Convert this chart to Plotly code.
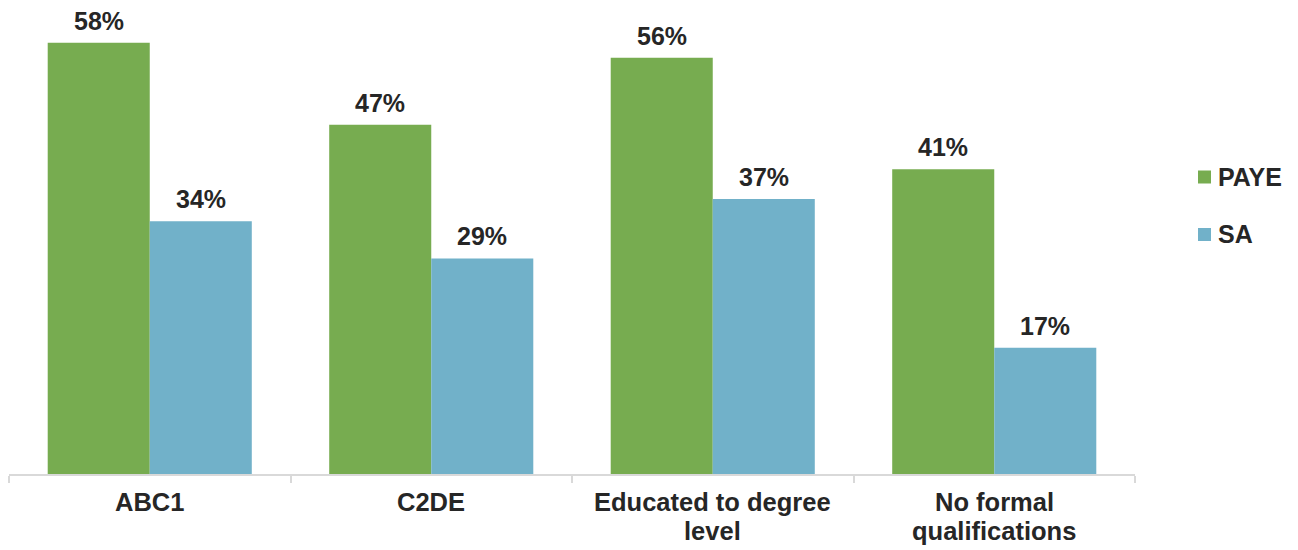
import plotly.graph_objects as go

categories = ["ABC1", "C2DE", "Educated to degree level", "No formal qualifications"]
category_lines = [["ABC1"], ["C2DE"], ["Educated to degree", "level"], ["No formal", "qualifications"]]
series_names = ["PAYE", "SA"]
paye = [58, 47, 56, 41]
sa = [34, 29, 37, 17]

GREEN = "#77AC50"
BLUE = "#71B1C9"
TEXT = "#262626"
AXIS = "#D9D9D9"
FONT = "Liberation Sans"

W, H = 1298, 550
L, R, T, B = 9, 163, 28, 76
BARGAP = 0.275
plot_w = W - L - R
plot_h = H - T - B


def px_x(px):
    return (px - L) / plot_w


def px_y(py):
    return (H - B - py) / plot_h


fig = go.Figure()
for name, vals, color in [("PAYE", paye, GREEN), ("SA", sa, BLUE)]:
    fig.add_trace(go.Bar(
        name=name, x=categories, y=vals,
        marker=dict(color=color, line=dict(width=0)),
        showlegend=False, hoverinfo="x+y",
    ))

# value labels above each bar, offset to the bar's slot within its group
n_series = 2
slot = (1 - BARGAP) / n_series
for s, vals in enumerate([paye, sa]):
    offset = -(1 - BARGAP) / 2 + slot * (s + 0.5)
    for i, v in enumerate(vals):
        fig.add_annotation(
            x=i + offset, y=v, xref="x", yref="y",
            text=f"<b>{v}%</b>", showarrow=False,
            yanchor="bottom", yshift=6,
            font=dict(size=25, color=TEXT, family=FONT),
        )

# category labels under the axis, one annotation per line for tight leading
for i, lines in enumerate(category_lines):
    for j, line in enumerate(lines):
        fig.add_annotation(
            x=i, y=0, xref="x", yref="paper",
            text=f"<b>{line}</b>", showarrow=False,
            yanchor="top", yshift=-13 - 29 * j, borderpad=0,
            font=dict(size=25.5, color=TEXT, family=FONT),
        )

# legend: coloured squares with bold series names
legend_rows = [(177, GREEN), (234.5, BLUE)]
for (cy, color), name in zip(legend_rows, series_names):
    fig.add_shape(
        type="rect", xref="paper", yref="paper",
        x0=px_x(1198), x1=px_x(1211), y0=px_y(cy + 6.5), y1=px_y(cy - 6.5),
        fillcolor=color, line=dict(width=0),
    )
    fig.add_annotation(
        x=px_x(1216), y=px_y(cy), xref="paper", yref="paper",
        text=f"<b>{name}</b>", showarrow=False,
        xanchor="left", yanchor="middle",
        font=dict(size=25, color=TEXT, family=FONT),
    )

fig.update_layout(
    width=W, height=H,
    margin=dict(l=L, r=R, t=T, b=B),
    paper_bgcolor="white", plot_bgcolor="white",
    barmode="group", bargap=BARGAP, bargroupgap=0,
    font=dict(family=FONT, size=24, color=TEXT),
    showlegend=False,
)
fig.update_xaxes(
    type="category", showline=True, linecolor=AXIS, linewidth=1.5,
    ticks="outside", tickson="boundaries", ticklen=7, tickcolor=AXIS, tickwidth=1.5,
    showticklabels=False, showgrid=False,
)
fig.update_yaxes(range=[0, 60], visible=False, showgrid=False)

fig.write_html("out.html")
